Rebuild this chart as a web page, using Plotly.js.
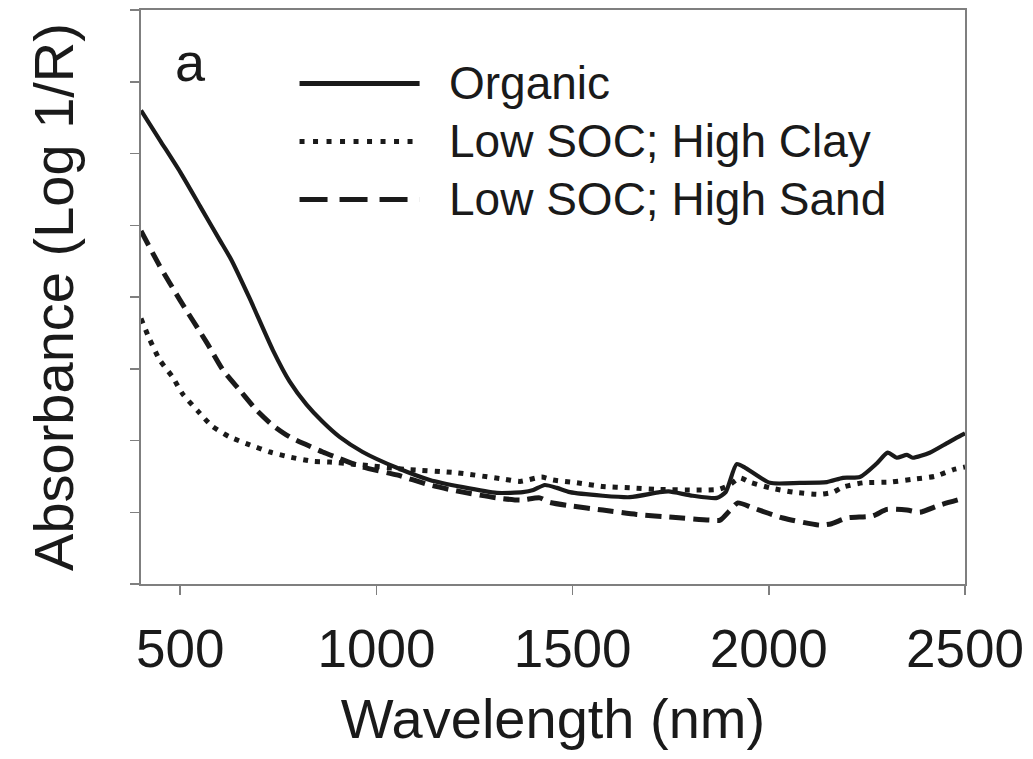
<!DOCTYPE html>
<html>
<head>
<meta charset="utf-8">
<script src="https://cdn.plot.ly/plotly-3.0.1.min.js"></script>
<style>
html,body{margin:0;padding:0;background:#fff;}
#chart{width:1033px;height:759px;}
</style>
</head>
<body>
<div id="chart"></div>
<script>
// Wavelength (nm) and absorbance (in y-tick units)
const organicNm = [400,450,500,550,600,630,677,736,779,822,863,906,965,1052,1136,1220,1307,1373,1400,1429,1460,1493,1577,1646,1722,1745,1806,1868,1890,1918,1940,2003,2079,2148,2189,2232,2275,2303,2326,2352,2367,2410,2453,2479,2500];
const organicAbs = [6.60,6.17,5.74,5.27,4.80,4.52,3.98,3.26,2.82,2.50,2.26,2.05,1.84,1.62,1.45,1.35,1.27,1.28,1.31,1.38,1.34,1.28,1.23,1.21,1.28,1.29,1.23,1.20,1.28,1.67,1.62,1.41,1.41,1.42,1.48,1.49,1.68,1.83,1.76,1.80,1.76,1.83,1.96,2.04,2.10];

const clayNm = [400,422,448,481,506,545,581,626,677,728,779,838,881,960,1072,1205,1327,1366,1421,1450,1511,1577,1646,1714,1816,1873,1900,1926,1952,2003,2062,2130,2164,2189,2240,2309,2367,2423,2474,2500];
const clayAbs = [3.70,3.41,3.12,2.88,2.65,2.41,2.20,2.05,1.94,1.84,1.77,1.71,1.70,1.66,1.60,1.55,1.46,1.43,1.49,1.45,1.41,1.36,1.34,1.32,1.31,1.32,1.38,1.48,1.42,1.34,1.28,1.25,1.28,1.35,1.41,1.42,1.46,1.50,1.60,1.63];

const sandNm = [400,448,499,568,609,652,695,736,779,822,863,906,965,1052,1136,1220,1307,1366,1416,1440,1493,1577,1663,1755,1850,1876,1900,1921,1960,2036,2130,2160,2199,2265,2301,2352,2385,2436,2500];
const sandAbs = [4.92,4.43,3.96,3.36,2.98,2.70,2.42,2.21,2.05,1.94,1.84,1.75,1.63,1.52,1.38,1.28,1.20,1.17,1.20,1.14,1.09,1.03,0.97,0.93,0.89,0.89,1.02,1.13,1.06,0.92,0.82,0.84,0.92,0.95,1.04,1.03,1.00,1.10,1.20];

const seriesNames = ["Organic", "Low SOC; High Clay", "Low SOC; High Sand"];
const xTickVals = [500,1000,1500,2000,2500];
const xTickText = ["500","1000","1500","2000","2500"];

const FONT = "Liberation Sans, Arial, Helvetica, sans-serif";
const INK = "#1a1a1a";
const AXIS = "#7f7f7f";

const traces = [
  {x: organicNm, y: organicAbs, name: seriesNames[0], mode: "lines",
   line: {color: INK, width: 4.2, shape: "spline", smoothing: 0.6}},
  {x: clayNm, y: clayAbs, name: seriesNames[1], mode: "lines",
   line: {color: INK, width: 5, dash: "5px,7px", shape: "spline", smoothing: 0.6}},
  {x: sandNm, y: sandAbs, name: seriesNames[2], mode: "lines",
   line: {color: INK, width: 5, dash: "16px,8px", shape: "spline", smoothing: 0.6}}
];

// manual legend (long line samples as in the reference)
const legY = [0.872, 0.771, 0.670];
const legDash = ["solid", "5px,8.5px", "28px,12px"];
const shapes = [];
const annotations = [];
for (let i = 0; i < seriesNames.length; i++) {
  shapes.push({type: "line", xref: "paper", yref: "paper",
    x0: 0.1924, x1: 0.3381, y0: legY[i], y1: legY[i],
    line: {color: INK, width: 5, dash: legDash[i]}});
  annotations.push({xref: "paper", yref: "paper", x: 0.3715, y: legY[i],
    xanchor: "left", yanchor: "middle", showarrow: false, text: seriesNames[i],
    font: {family: FONT, size: 46, color: INK}});
}
annotations.push({xref: "paper", yref: "paper", x: 0.0605, y: 0.91,
  xanchor: "center", yanchor: "middle", showarrow: false, text: "a",
  font: {family: FONT, size: 54, color: INK}});

const layout = {
  width: 1033, height: 759,
  margin: {l: 141, r: 68, t: 10, b: 175},
  paper_bgcolor: "#ffffff", plot_bgcolor: "#ffffff",
  showlegend: false,
  font: {family: FONT, color: INK},
  xaxis: {
    range: [400, 2500], tickvals: xTickVals, ticktext: xTickText,
    ticks: "outside", ticklen: 9, tickwidth: 1.5, tickcolor: AXIS,
    showline: true, linecolor: AXIS, linewidth: 2, mirror: true,
    showgrid: false, zeroline: false,
    tickfont: {family: FONT, size: 53, color: INK},
    ticklabelstandoff: 8,
    title: {text: "Wavelength (nm)", font: {family: FONT, size: 56, color: INK}, standoff: 22}
  },
  yaxis: {
    range: [0, 8], dtick: 1, tick0: 0,
    ticks: "outside", ticklen: 9, tickwidth: 1.5, tickcolor: AXIS,
    showticklabels: false,
    showline: true, linecolor: AXIS, linewidth: 2, mirror: true,
    showgrid: false, zeroline: false,
    title: {text: "Absorbance (Log 1/R)", font: {family: FONT, size: 56, color: INK}, standoff: 38}
  },
  shapes: shapes,
  annotations: annotations
};

Plotly.newPlot("chart", traces, layout, {displayModeBar: false, staticPlot: true});
</script>
</body>
</html>
